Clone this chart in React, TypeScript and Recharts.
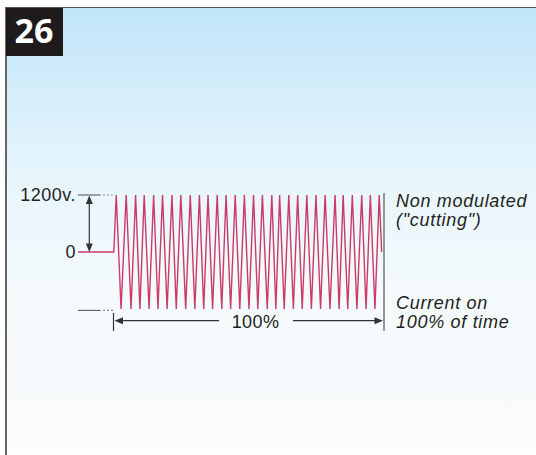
import { LineChart, Line, XAxis, YAxis, ReferenceLine } from "recharts"

// time in % of the "on" window, voltage in volts
const leadIn = [
  { t: -13.3, v: 0 },
  { t: 0, v: 0 },
]
const peakTimes = [
  0.9, 4.6, 8.1, 11.3, 14.8, 18.1, 21.6, 24.9, 28.4, 31.8, 35.0, 38.4, 41.7, 45.1, 48.5,
  51.9, 55.2, 58.7, 61.6, 65.0, 68.3, 71.7, 75.1, 78.5, 82.2, 85.2, 88.6, 92.1, 95.3, 98.6,
]
const troughTimes = [
  2.7, 6.4, 9.7, 13.1, 16.4, 19.8, 23.2, 26.7, 30.1, 33.4, 36.7, 40.1, 43.4, 46.8, 50.2,
  53.5, 57.0, 60.2, 63.3, 66.7, 70.0, 73.4, 76.8, 80.3, 83.7, 86.9, 90.3, 93.7, 97.0,
]
const peakVolts = 1200
const troughVolts = -1200
const tailOut = [{ t: 99.5, v: 0 }]

const voltTicks = [0, 1200]
const tickLabels: Record<number, string> = { 0: "0", 1200: "1200v." }

const wave = [
  ...leadIn,
  ...peakTimes.flatMap((t, i) =>
    i < troughTimes.length
      ? [{ t, v: peakVolts }, { t: troughTimes[i], v: troughVolts }]
      : [{ t, v: peakVolts }]
  ),
  ...tailOut,
]

const ink = "#231f20"
const sans = "'Liberation Sans', Arial, sans-serif"

export default function App() {
  return (
    <div style={{ position: "absolute", left: 0, top: 0, width: 536, height: 455, overflow: "hidden", background: "#fff" }}>
      <div
        style={{
          position: "absolute",
          left: 5,
          top: 7,
          width: 536,
          height: 455,
          borderTop: "1.5px solid #555",
          borderLeft: "2px solid #666",
          background: "linear-gradient(180deg, #c0e5f8 0%, #d6eefa 20%, #e9f6fc 40%, #f3f9fc 60%, #f8fbfc 85%, #fcfdfd 100%)",
        }}
      />
      <div style={{ position: "absolute", left: 0, top: 0 }}>
        <LineChart width={536} height={455} data={wave} margin={{ top: 195, right: 153, bottom: 146, left: 0 }}>
          <XAxis type="number" dataKey="t" domain={[-13.3, 100]} hide />
          <YAxis
            type="number"
            domain={[troughVolts, peakVolts]}
            ticks={voltTicks}
            width={78}
            axisLine={false}
            tickLine={false}
            tickSize={0}
            tickMargin={2}
            interval={0}
            tickFormatter={(v: number) => tickLabels[v] ?? ""}
            tick={{ fill: ink, fontSize: 18, fontFamily: sans, letterSpacing: 0.5 }}
          />
          <ReferenceLine segment={[{ x: -13.3, y: 1200 }, { x: -4.9, y: 1200 }]} stroke="#666" strokeWidth={1.2} />
          <ReferenceLine segment={[{ x: -3.9, y: 1200 }, { x: -0.4, y: 1200 }]} stroke="#666" strokeWidth={1.2} strokeDasharray="1.5 2.5" />
          <ReferenceLine segment={[{ x: -13.3, y: -1230 }, { x: -4.9, y: -1230 }]} stroke="#666" strokeWidth={1.2} ifOverflow="visible" />
          <ReferenceLine segment={[{ x: -3.9, y: -1230 }, { x: -0.4, y: -1230 }]} stroke="#666" strokeWidth={1.2} strokeDasharray="1.5 2.5" ifOverflow="visible" />
          <Line
            type="linear"
            dataKey="v"
            stroke="#cc3b64"
            strokeWidth={1.4}
            dot={false}
            isAnimationActive={false}
          />
        </LineChart>
      </div>
      <svg width={536} height={455} style={{ position: "absolute", left: 0, top: 0, pointerEvents: "none" }}>
        {/* badge */}
        <rect x={6} y={8} width={57} height={48} fill="#1f1b1c" />
        <text x={34} y={43} textAnchor="middle" fill="#fff" fontSize={34} fontWeight={700} fontFamily="'Open Sans', sans-serif">
          26
        </text>
        {/* amplitude arrow */}
        <line x1={89.3} y1={200} x2={89.3} y2={248} stroke="#333" strokeWidth={1.2} />
        <polygon points="89.3,195.5 85.8,204 92.8,204" fill="#333" />
        <polygon points="89.3,252 85.8,243.5 92.8,243.5" fill="#333" />
        {/* 100% span */}
        <line x1={113.5} y1={313} x2={113.5} y2={331} stroke="#333" strokeWidth={1.2} />
        <line x1={384} y1={193} x2={384} y2={331} stroke="#777" strokeWidth={1.5} />
        <line x1={118} y1={320.7} x2={219} y2={320.7} stroke="#333" strokeWidth={1.2} />
        <polygon points="114.5,320.7 123,317.2 123,324.2" fill="#333" />
        <line x1={293} y1={320.7} x2={378} y2={320.7} stroke="#333" strokeWidth={1.2} />
        <polygon points="383,320.7 374.5,317.2 374.5,324.2" fill="#333" />
        <text x={255.5} y={328} textAnchor="middle" fill={ink} fontSize={18} fontFamily={sans} letterSpacing={0.4}>
          100%
        </text>
        {/* notes */}
        <g fill={ink} fontSize={18} fontStyle="italic" fontFamily={sans} letterSpacing={0.7}>
          <text x={396} y={207}>Non modulated</text>
          <text x={396} y={226}>("cutting")</text>
          <text x={396} y={309}>Current on</text>
          <text x={396} y={328}>100% of time</text>
        </g>
      </svg>
    </div>
  )
}
